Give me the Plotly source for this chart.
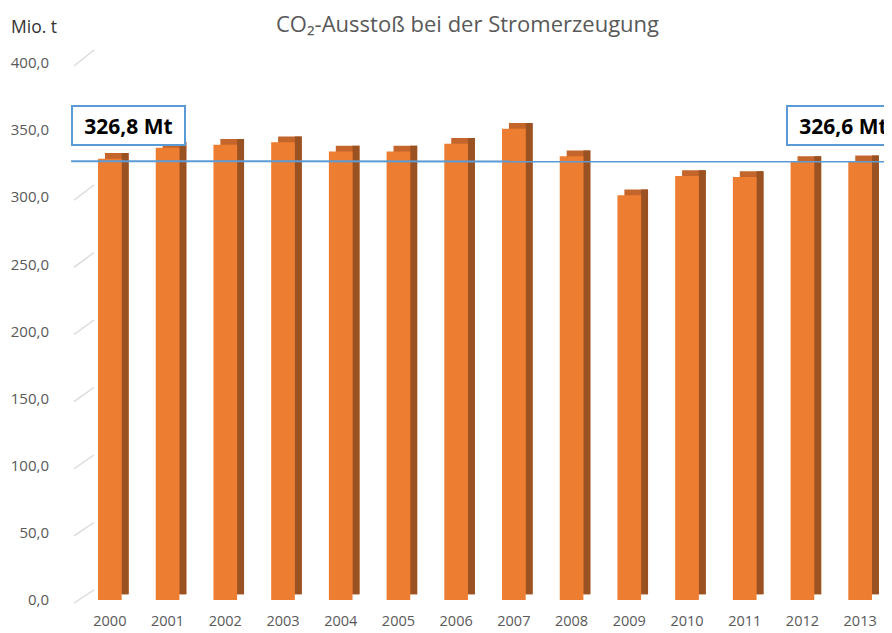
import plotly.graph_objects as go

years = ["2000", "2001", "2002", "2003", "2004", "2005", "2006",
         "2007", "2008", "2009", "2010", "2011", "2012", "2013"]
co2 = [328.7, 336.9, 339.1, 341.0, 334.1, 334.1, 339.9,
       351.0, 330.6, 301.4, 315.8, 315.0, 326.2, 326.7]
ticks = [0, 50, 100, 150, 200, 250, 300, 350, 400]
tick_text = ["0,0", "50,0", "100,0", "150,0", "200,0", "250,0", "300,0", "350,0", "400,0"]
line_start, line_end = 326.8, 326.6
label_start, label_end = "326,8 Mt", "326,6 Mt"

# the page body has an 8px margin; work in figure pixels = screen pixels - 8
OFF = 8
W, H = 892 - OFF, 633 - OFF
ML, MR, MT, MB = 75 - OFF, 3, 50 - OFF, 32
PW, PH = W - ML - MR, H - MT - MB
PX_PER_UNIT = 1.345
y_top = PH / PX_PER_UNIT
depth = 4.3
bw = 0.41
shift = 0.12

ORANGE = "#ed7d31"
TOP = "#c4662c"
SIDE = "#9b5222"
GRID = "#d9d9d9"
BLUE = "#5b9bd5"

back_x0 = 13 / PW
back_y0 = 10 / PH


def px_x(sx):
    return (sx - OFF - ML) / PW


def px_y(sy):
    return (H - MB - (sy - OFF)) / PH


fig = go.Figure()
# top face
fig.add_trace(go.Bar(x=years, y=co2, base=depth, width=bw, offset=-bw / 2 + shift,
                     marker=dict(color=TOP, line=dict(width=0)), xaxis="x2", yaxis="y2",
                     hoverinfo="skip", showlegend=False))
# side face
fig.add_trace(go.Bar(x=years, y=co2, base=depth, width=shift, offset=bw / 2,
                     marker=dict(color=SIDE, line=dict(width=0)), xaxis="x2", yaxis="y2",
                     hoverinfo="skip", showlegend=False))
# front face
fig.add_trace(go.Bar(x=years, y=co2, width=bw, offset=-bw / 2,
                     marker=dict(color=ORANGE, line=dict(width=0)), xaxis="x2", yaxis="y2",
                     showlegend=False))

shapes = [dict(type="line", xref="paper", yref="y2", x0=px_x(65), x1=1.02,
               y0=line_start, y1=line_end, line=dict(color=BLUE, width=2), layer="above")]
for t in ticks:
    yf = (t * PX_PER_UNIT - 3) / PH
    yb = back_y0 + t / 400 * (1 - back_y0)
    shapes.append(dict(type="line", xref="paper", yref="paper", x0=px_x(68), x1=back_x0,
                       y0=yf, y1=yb, line=dict(color=GRID, width=1.3), layer="below"))

fig.update_layout(
    width=W, height=H,
    margin=dict(l=ML, r=MR, t=MT, b=MB),
    paper_bgcolor="white", plot_bgcolor="rgba(0,0,0,0)",
    barmode="overlay",
    separators=",.",
    font=dict(family="Open Sans", color="#595959"),
    xaxis=dict(domain=[back_x0, 1], visible=False, range=[0, 1], fixedrange=True),
    yaxis=dict(domain=[back_y0, 1], range=[0, 400], tickvals=ticks, showticklabels=False,
               showgrid=True, gridcolor=GRID, gridwidth=1.3, zeroline=False, showline=False,
               ticks=""),
    xaxis2=dict(domain=[0, 1], anchor="y2", type="category", range=[-0.5, 13.5],
                showgrid=False, showline=False, zeroline=False,
                ticks="outside", ticklen=8, tickcolor="rgba(0,0,0,0)",
                tickfont=dict(size=14.5, color="#595959")),
    yaxis2=dict(domain=[0, 1], anchor="x2", range=[0, y_top], tickvals=ticks, ticktext=tick_text,
                showgrid=False, zeroline=False, showline=False,
                ticks="outside", ticklen=28, tickcolor="rgba(0,0,0,0)",
                tickfont=dict(size=15, color="#595959")),
    shapes=shapes,
    annotations=[
        dict(text="CO₂-Ausstoß bei der Stromerzeugung", xref="paper", yref="paper",
             x=px_x(464), y=px_y(23), xanchor="center", yanchor="middle",
             showarrow=False, font=dict(size=22, color="#595959")),
        dict(text="Mio. t", xref="paper", yref="paper", x=px_x(2), y=px_y(26),
             xanchor="left", yanchor="middle", showarrow=False,
             font=dict(size=17.5, color="#333333")),
        dict(text="<b>" + label_start + "</b>", xref="paper", yref="paper",
             x=px_x(122.5), y=px_y(126), xanchor="center", yanchor="middle",
             showarrow=False, width=109, height=35, borderpad=1, borderwidth=2,
             bordercolor=BLUE, bgcolor="white", font=dict(size=21, color="black")),
        dict(text="<b>" + label_end + "</b>", xref="paper", yref="paper",
             x=px_x(843), y=px_y(126), xanchor="center", yanchor="middle",
             showarrow=False, width=109, height=35, borderpad=1, borderwidth=2,
             bordercolor=BLUE, bgcolor="white", font=dict(size=21, color="black")),
    ],
)

fig.write_html("out.html")
